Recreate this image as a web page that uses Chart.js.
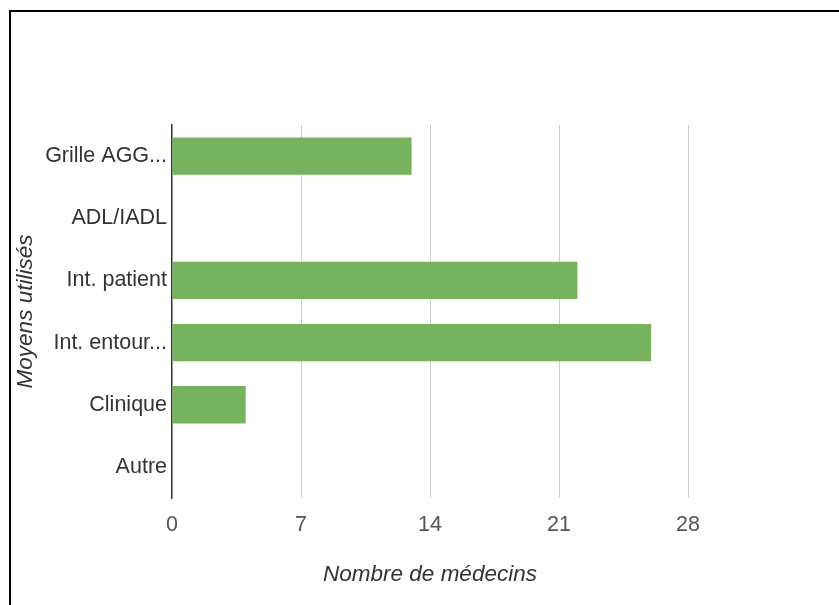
<!DOCTYPE html>
<html>
<head>
<meta charset="utf-8">
<script src="https://cdn.jsdelivr.net/npm/chart.js@4"></script>
<style>
    html, body { margin: 0; padding: 0; background: #fff; }
    #wrap { position: relative; width: 839px; height: 605px; overflow: hidden; }
    #frame {
        position: absolute; left: 9px; top: 10px; right: 0; bottom: 0;
        border-top: 2px solid #000; border-left: 2px solid #000;
        pointer-events: none;
    }
    canvas { position: absolute; left: 0; top: 0; }
</style>
</head>
<body>
<div id="wrap">
    <canvas id="chart" width="839" height="605"></canvas>
    <div id="frame"></div>
</div>
<script>
const categories = ['Grille AGG...', 'ADL/IADL', 'Int. patient', 'Int. entour...', 'Clinique', 'Autre'];
const counts = [13, 0, 22, 26, 4, 0];
const xTicks = [0, 7, 14, 21, 28];
const xTitle = 'Nombre de médecins';
const yTitle = 'Moyens utilisés';

const FONT = 'Arial, "Liberation Sans", sans-serif';

// axis titles, placed like the original
const axisTitles = {
    id: 'axisTitles',
    afterDraw(chart) {
        const ctx = chart.ctx;
        const area = chart.chartArea;
        ctx.save();
        ctx.fillStyle = '#333';
        ctx.font = 'italic 22.5px ' + FONT;
        ctx.textAlign = 'center';
        ctx.textBaseline = 'middle';
        ctx.fillText(xTitle, (area.left + area.right) / 2, 575);
        ctx.translate(26, (area.top + area.bottom) / 2);
        ctx.rotate(-Math.PI / 2);
        ctx.fillText(yTitle, 0, 0);
        ctx.restore();
    }
};

new Chart(document.getElementById('chart').getContext('2d'), {
    type: 'bar',
    data: {
        labels: categories,
        datasets: [{
            data: counts,
            backgroundColor: '#77b25f',
            borderWidth: 0,
            barPercentage: 0.6,
            categoryPercentage: 1.0
        }]
    },
    options: {
        indexAxis: 'y',
        responsive: false,
        animation: false,
        layout: { padding: { left: 0, right: 151, top: 125, bottom: 0 } },
        plugins: {
            legend: { display: false },
            tooltip: { enabled: false }
        },
        scales: {
            x: {
                min: 0,
                max: 28,
                afterBuildTicks: axis => { axis.ticks = xTicks.map(v => ({ value: v })); },
                afterFit: axis => { axis.height = 107; },
                grid: {
                    color: c => c.tick && c.tick.value === 0 ? 'rgba(0,0,0,0)' : '#cccccc',
                    lineWidth: 1,
                    drawTicks: false
                },
                border: { display: false },
                ticks: {
                    color: '#555',
                    font: { family: FONT, size: 21.5 },
                    padding: 14
                }
            },
            y: {
                afterFit: axis => { axis.width = 172; },
                grid: { display: false, drawTicks: false },
                border: { display: true, color: '#333', width: 1.5 },
                ticks: {
                    color: '#333',
                    font: { family: FONT, size: 21.5 },
                    padding: 5
                }
            }
        }
    },
    plugins: [axisTitles]
});
</script>
</body>
</html>
